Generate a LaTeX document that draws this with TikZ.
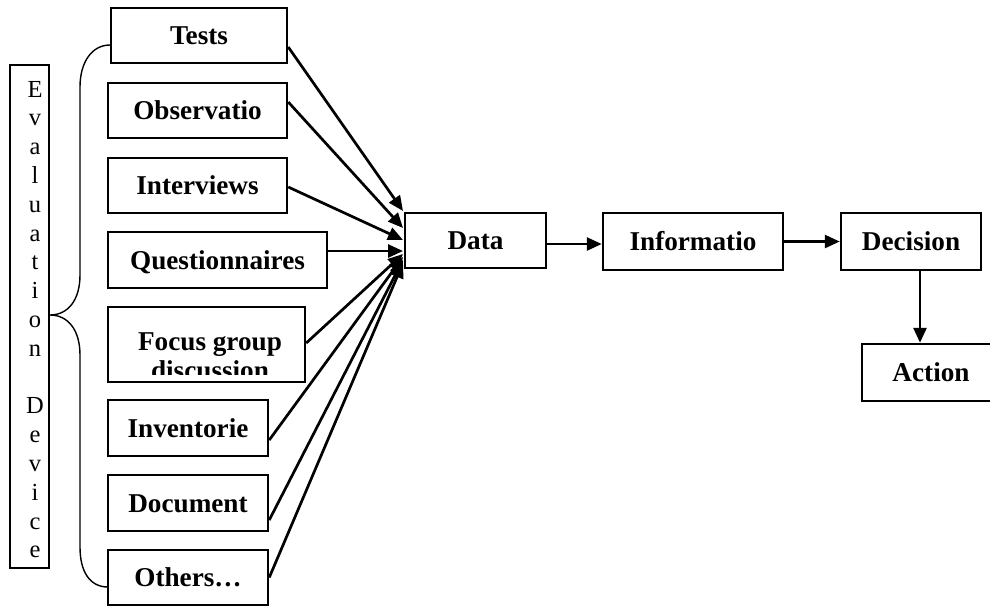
\documentclass[tikz,border=0pt]{standalone}
\usepackage{fontspec}
\setmainfont{Liberation Serif}
\usetikzlibrary{arrows.meta}
\begin{document}
\begin{tikzpicture}[x=0.5pt,y=-0.5pt,
  box/.style={draw,line width=1.25pt,inner sep=0pt,text height=9pt,text depth=0pt,
    font=\bfseries\fontsize{13.6}{16}\selectfont},
  emptybox/.style={draw,line width=1.25pt,inner sep=0pt},
  lbl/.style={inner sep=0pt,anchor=base,font=\bfseries\fontsize{13.6}{16}\selectfont},
  letter/.style={inner sep=0pt,anchor=base,font=\fontsize{12.25}{14.4}\selectfont},
  arr/.style={line width=1.35pt,-{Triangle[length=7.5pt,width=6.5pt]}},
  thinline/.style={line width=0.7pt}]
\clip (0,0) rectangle (990,607);

% left column
\node[box,minimum width=88pt,minimum height=27.5pt] (tests) at (199,35.5) {Tests};
\node[box,minimum width=89.5pt,minimum height=27.5pt] (obs) at (197.5,110.5) {Observatio};
\node[box,minimum width=89.5pt,minimum height=27.5pt] (int) at (197.5,185.5) {Interviews};
\node[box,minimum width=109.5pt,minimum height=28pt] (quest) at (217.5,260) {Questionnaires};
\node[emptybox,minimum width=98.5pt,minimum height=37.5pt] (focus) at (206.5,344.5) {};
\begin{scope}
  \clip (focus.north west) rectangle ([yshift=4.5pt]focus.south east);
  \node[lbl] (focus1) at (210,350) {Focus group};
  \node[lbl] (focus2) at (210,379) {discussion};
\end{scope}
\node[box,minimum width=80pt,minimum height=28pt] (inv) at (188,428) {Inventorie};
\node[box,minimum width=80pt,minimum height=28pt] (doc) at (188,503) {Document};
\node[box,minimum width=80pt,minimum height=27.5pt] (oth) at (188,577.5) {Others…};

% right chain
\node[box,minimum width=70.5pt,minimum height=27.5pt] (data) at (475.5,240.5) {Data};
\node[box,minimum width=90pt,minimum height=28.5pt] (info) at (693,241.5) {Informatio};
\node[box,minimum width=70pt,minimum height=28.5pt] (dec) at (911,241.5) {Decision};
\node[box,minimum width=69pt,minimum height=28.5pt] (act) at (931,372.5) {Action};

% evaluation device box
\node[draw,line width=0.7pt,inner sep=0pt,minimum width=19.5pt,minimum height=251.5pt] (evalbox) at (29.5,316.5) {};
\foreach \ch/\k in {E/0,v/1,a/2,l/3,u/4,a/5,t/6,i/7,o/8,n/9,D/11,e/12,v/13,i/14,c/15,e/16}
  \node[letter] (ev\k) at (35,{97+28.8*\k}) {\ch};

% brace
\coordinate (btop) at (110,45);
\coordinate (btip) at (50,315);
\coordinate (bbot) at (108,587);
\draw[thinline] (btop) .. controls (92,45) and (80,62) .. (80,87) -- (80,275)
  .. controls (80,300) and (68,315) .. (btip)
  .. controls (68,315) and (80,330) .. (80,355) -- (80,547)
  .. controls (80,572) and (90,587) .. (bbot);

% convergence points on Data
\coordinate (d1) at (403,211);
\coordinate (d2) at (403,228);
\coordinate (d3) at (403,240);
\coordinate (d4) at (403,251);
\coordinate (d5) at (403,254);
\coordinate (d6) at (403,257);
\coordinate (d7) at (403,260);
\coordinate (d8) at (403,263);

\draw[arr] ([yshift=-5.75pt]tests.east) -- (d1);
\draw[arr] ([yshift=4.25pt]obs.east) -- (d2);
\draw[arr] ([yshift=-0.75pt]int.east) -- (d3);
\draw[arr] ([yshift=4.5pt]quest.east) -- (d4);
\draw[arr] ([yshift=0.75pt]focus.east) -- (d5);
\draw[arr] ([yshift=-6pt]inv.east) -- (d6);
\draw[arr] ([yshift=-8.5pt]doc.east) -- (d7);
\draw[arr] (oth.east) -- (d8);

\draw[arr] ([yshift=-1.75pt]data.east) -- ([yshift=-1.25pt]info.west);
\draw[arr] (info.east) -- (dec.west);
\draw[arr] ([xshift=4.5pt]dec.south) -- ([xshift=4.5pt]dec.south |- act.north);
\end{tikzpicture}
\end{document}
